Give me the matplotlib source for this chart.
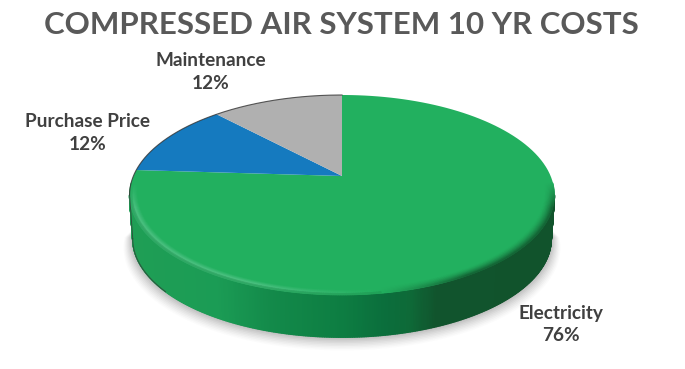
import numpy as np
import matplotlib
matplotlib.use("Agg")
import matplotlib.pyplot as plt
from matplotlib.collections import PolyCollection
from matplotlib.colors import LinearSegmentedColormap, to_rgb
from matplotlib.path import Path
from matplotlib.transforms import Transform, Affine2D

categories = ["Electricity", "Purchase Price", "Maintenance"]
values = [76, 12, 12]
colors = ["#22B05F", "#157ABF", "#B0B0B0"]
title = "COMPRESSED AIR SYSTEM 10 YR COSTS"

CX, CY, RX, AY, B, DEPTH = 342.0, 176.0, 208.6, 96.4, 0.19, 44.0
TANGENT = 1.38  # half-angle of the visible front wall, from the near point


def project(u, v, drop=0.0, shrink=1.0):
    d = 1 + B * v
    return CX + shrink * RX * u / d, CY - shrink * AY * v / d + drop


class Persp(Transform):
    input_dims = output_dims = 2
    is_affine = False
    has_inverse = False

    def transform_non_affine(self, xy):
        xy = np.asarray(xy, float)
        x, y = project(xy[:, 0], xy[:, 1])
        return np.column_stack([x, y])

    def transform_path_non_affine(self, path):
        polys = path.to_polygons(Affine2D().scale(1000), closed_only=True)
        pts = polys[0] / 1000.0
        return Path(self.transform_non_affine(pts), closed=True)


fig = plt.figure(figsize=(6.85, 3.69), dpi=100, facecolor="white")
ax = fig.add_axes([0, 0, 1, 1])

wedges, _ = ax.pie(values, colors=colors, startangle=90, counterclock=False,
                   wedgeprops=dict(linewidth=0, zorder=5))
ax.set_aspect("auto")
ax.set_xlim(0, 685)
ax.set_ylim(369, 0)
ax.axis("off")
persp = Persp()
for w in wedges:
    w.set_transform(persp + ax.transData)

# soft shadow: only the front, stepping outwards and downwards
ang = np.linspace(np.pi - TANGENT - 0.1, np.pi + TANGENT + 0.1, 300)
for grow, a in zip(np.linspace(9, 0, 10), np.linspace(0.02, 0.085, 10)):
    x, y = project(np.sin(ang), np.cos(ang), DEPTH + grow * 0.9, 0.985 + grow / RX)
    ax.fill(x, y, color="#555555", alpha=a, lw=0, zorder=1)

# side wall, shaded across its width
side_cmap = LinearSegmentedColormap.from_list("side", [
    (0.00, "#1F9E55"), (0.20, "#1B9C55"), (0.33, "#138A4A"), (0.50, "#0D7D42"),
    (0.60, "#0B6E3C"), (0.66, "#0E6A38"), (0.72, "#11542D"), (1.00, "#11532C")])
ang = np.linspace(np.pi - TANGENT, np.pi + TANGENT, 401)
quads, cvals = [], []
for a0, a1 in zip(ang[:-1], ang[1:]):
    x0, y0 = project(np.sin(a0), np.cos(a0))
    x1, y1 = project(np.sin(a1), np.cos(a1))
    x2, y2 = project(np.sin(a1), np.cos(a1), DEPTH, 0.985)
    x3, y3 = project(np.sin(a0), np.cos(a0), DEPTH, 0.985)
    quads.append([(x0, y0), (x1, y1), (x2, y2), (x3, y3)])
    cvals.append(side_cmap(((x0 + x1) / 2 - 130) / 425))
ax.add_collection(PolyCollection(quads, facecolors=cvals, edgecolors=cvals, linewidths=1.0, zorder=3))

# bevel along the front rim of the green top face
top = np.array(to_rgb(colors[0]))
light = np.array(to_rgb("#4FC284"))
dark = np.array(to_rgb("#11532C"))
radii = np.linspace(0.955, 1.0, 13)
ang2 = np.linspace(np.pi - TANGENT - 0.12, np.pi + TANGENT + 0.12, 331)
bq, bc = [], []
for r0, r1 in zip(radii[:-1], radii[1:]):
    rm = (r0 + r1) / 2
    prof = np.clip(1 - abs(rm - 0.985) / 0.022, 0, 1)
    ramp = np.clip((rm - 0.955) / 0.045, 0, 1) ** 1.5
    for a0, a1 in zip(ang2[:-1], ang2[1:]):
        am = (a0 + a1) / 2
        s = np.sin(am)
        fade = np.clip((TANGENT + 0.12 - abs(am - np.pi)) / 0.25, 0, 1)
        if s > 0.15:
            mix = min((s - 0.15) / 0.35, 1)
            c = top + (dark - top) * ramp * mix * 0.85 * fade
        else:
            mix = min((0.15 - s) / 0.5, 1)
            c = top + (light - top) * prof * mix * 0.9 * fade
            if rm > 0.99:
                c = c * (1 - 0.08 * fade)
        pts = [project(r0 * np.sin(a0), r0 * np.cos(a0)), project(r0 * np.sin(a1), r0 * np.cos(a1)),
               project(r1 * np.sin(a1), r1 * np.cos(a1)), project(r1 * np.sin(a0), r1 * np.cos(a0))]
        bq.append(pts)
        bc.append(tuple(np.clip(c, 0, 1)))
ax.add_collection(PolyCollection(bq, facecolors=bc, edgecolors=bc, linewidths=0.5, zorder=6))

# thin dark outline on the back-left rim and lower-left wall
aa = np.linspace(np.pi + TANGENT, 2 * np.pi, 200)
x, y = project(np.sin(aa), np.cos(aa))
ax.plot(x, y, color="#333333", lw=0.8, alpha=0.8, zorder=7)
aa = np.linspace(np.pi + TANGENT, np.pi + 0.85, 100)
x, y = project(np.sin(aa), np.cos(aa), DEPTH, 0.985)
ax.plot(x, y, color="#333333", lw=0.7, alpha=0.7, zorder=7)
x0, y0 = project(np.sin(np.pi + TANGENT), np.cos(np.pi + TANGENT))
x1, y1 = project(np.sin(np.pi + TANGENT), np.cos(np.pi + TANGENT), DEPTH, 0.985)
ax.plot([x0, x1], [y0, y1], color="#333333", lw=0.7, alpha=0.7, zorder=7)

fig.suptitle(title, x=341 / 685, y=1 - 25 / 369, ha="center", va="center",
             fontsize=22.5, fontweight="bold", family="Lato", color="#595959")

label_xy = {"Electricity": (561, 324.5), "Purchase Price": (88, 133), "Maintenance": (211, 72)}
for name, val in zip(categories, values):
    lx, ly = label_xy[name]
    ax.text(lx, ly, f"{name}\n{round(100 * val / sum(values))}%", ha="center", va="center",
            fontsize=13.7, fontweight="bold", family="Lato", color="#404040", linespacing=1.36, zorder=10)

fig.savefig("out.png", dpi=100)
